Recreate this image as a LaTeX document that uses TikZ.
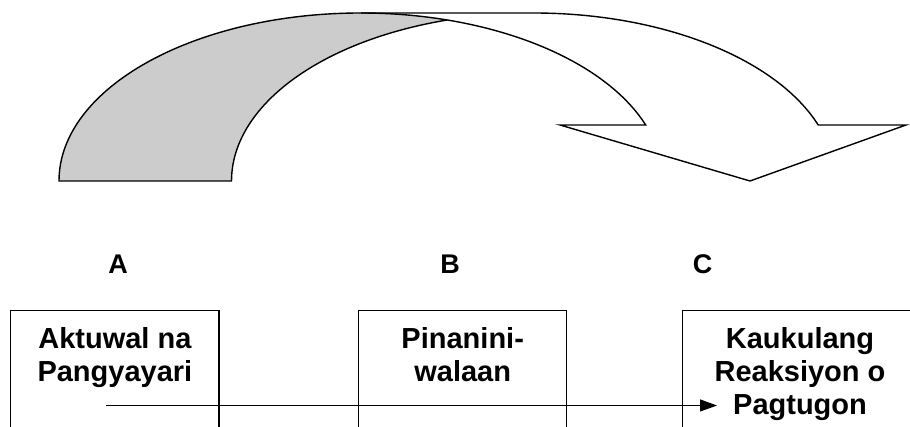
\documentclass[tikz,border=0pt]{standalone}
\usepackage{fontspec}
\setmainfont{Liberation Sans}
\usetikzlibrary{arrows.meta}
\definecolor{ribbongray}{RGB}{204,204,204}
\tikzset{
  boxst/.style={draw, line width=1.3pt, inner sep=0pt, outer sep=0pt, anchor=north west},
  boxtext/.style={inner sep=0pt, align=center, anchor=north, font=\fontsize{29}{33.3}\selectfont\bfseries},
  lettertext/.style={inner sep=0pt, anchor=base, font=\fontsize{27}{30}\selectfont\bfseries},
  ribbon/.style={line width=1.4pt, line join=miter},
  flowline/.style={line width=1.3pt, -{Triangle[length=17pt,width=12pt]}}
}
\begin{document}
\begin{tikzpicture}[x=1pt,y=1pt]
\useasboundingbox (0,0) rectangle (910,427);
\clip (0,0) rectangle (910,427);
% curved arrow
\fill[ribbongray] (59,246) arc[start angle=180,end angle=73.4,x radius=302pt,y radius=168pt]
  arc[start angle=106.6,end angle=180,x radius=302pt,y radius=168pt] -- cycle;
\draw[ribbon] (59,246) arc[start angle=180,end angle=90,x radius=302pt,y radius=168pt]
  -- (533.5,414) arc[start angle=90,end angle=19.47,x radius=302pt,y radius=168pt]
  -- (906,302) -- (750,246) -- (560,302) -- (645.7,302)
  arc[start angle=19.47,end angle=73.4,x radius=302pt,y radius=168pt]
  arc[start angle=106.6,end angle=180,x radius=302pt,y radius=168pt] -- cycle;
\draw[ribbon] (361,414) arc[start angle=90,end angle=73.4,x radius=302pt,y radius=168pt];
% letters
\node[lettertext] (la) at (118,153) {A};
\node[lettertext] (lb) at (450,153) {B};
\node[lettertext] (lc) at (702.5,153) {C};
% boxes
\node[boxst, minimum width=208.3pt, minimum height=150pt] (boxA) at (10.7,116.3) {};
\node[boxst, minimum width=208pt, minimum height=150pt] (boxB) at (358.7,116.3) {};
\node[boxst, minimum width=234.6pt, minimum height=150pt] (boxC) at (682.7,116.3) {};
\node[boxtext] (ta) at (114.9,100) {Aktuwal na\\Pangyayari};
\node[boxtext] (tb) at (462.7,100) {Pinanini-\\walaan};
\node[boxtext] (tc) at (800,100) {Kaukulang\\Reaksiyon o\\Pagtugon};
% flow arrow
\coordinate (fs) at (106,21.5);
\coordinate (fe) at (717,21.5);
\draw[flowline] (fs) -- (fe);
\end{tikzpicture}
\end{document}
